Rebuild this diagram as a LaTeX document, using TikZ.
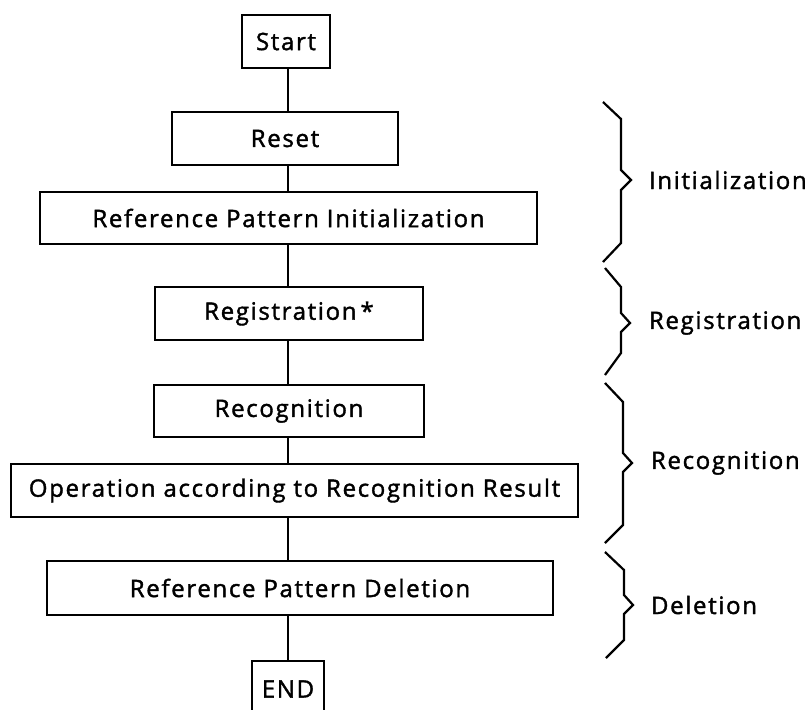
\documentclass[tikz,border=0pt]{standalone}
\usepackage{fontspec}
\setmainfont{Open Sans}[LetterSpace=7, FakeBold=1.6]
\begin{document}
\begin{tikzpicture}[x=1pt, y=-1pt,
  line width=2pt, line join=miter,
  stepbox/.style={draw, line width=2.4pt, inner sep=0pt, font=\fontsize{24}{27}\selectfont},
  grouplabel/.style={anchor=west, inner sep=0pt, font=\fontsize{24}{27}\selectfont},
  bracket/.style={line width=2.2pt, line join=miter}]
\useasboundingbox (0,0) rectangle (807,710);
\coordinate (spine) at (288,0);

% process boxes: centre, width, height
\node[stepbox, minimum width=88pt,  minimum height=53pt] (start) at (286,41.5)   {Start};
\node[stepbox, minimum width=226pt, minimum height=53pt] (reset) at (285,138.5)  {Reset};
\node[stepbox, minimum width=497pt, minimum height=52pt] (init)  at (288.5,218)  {Reference Pattern Initialization};
\node[stepbox, minimum width=268pt, minimum height=53pt] (reg)   at (289,313.5)  {Registration\,*};
\node[stepbox, minimum width=270pt, minimum height=52pt] (rec)   at (289,411)    {Recognition};
\node[stepbox, minimum width=567pt, minimum height=53pt] (oper)  at (294.5,490.5){Operation according to Recognition Result};
\node[stepbox, minimum width=506pt, minimum height=54pt] (del)   at (300,588)    {Reference Pattern Deletion};
\node[stepbox, minimum width=72pt,  minimum height=56pt] (fin)   at (288,689)    {END};

% flow line down the middle
\foreach \a/\b in {start/reset, reset/init, init/reg, reg/rec, rec/oper, oper/del, del/fin}
  \draw (\a.south -| spine) -- (\b.north -| spine);

% phase brackets
\draw[bracket] (603,102) -- (621,119) -- (621,170) -- (631,180) -- (621,190) -- (621,243) -- (603,262);
\draw[bracket] (605,268) -- (621,287) -- (621,313) -- (630,323) -- (621,332) -- (621,353) -- (605,375);
\draw[bracket] (605,383) -- (623,402) -- (623,453) -- (632,463) -- (623,472) -- (623,525) -- (605,543);
\draw[bracket] (605,552) -- (624,570) -- (624,595) -- (633,605) -- (624,614) -- (624,640) -- (606,658);

% phase names
\node[grouplabel] (lbinit) at (648,180) {Initialization};
\node[grouplabel] (lbreg)  at (648,323) {Registration};
\node[grouplabel] (lbrec)  at (650,463) {Recognition};
\node[grouplabel] (lbdel)  at (650,605) {Deletion};
\end{tikzpicture}
\end{document}
